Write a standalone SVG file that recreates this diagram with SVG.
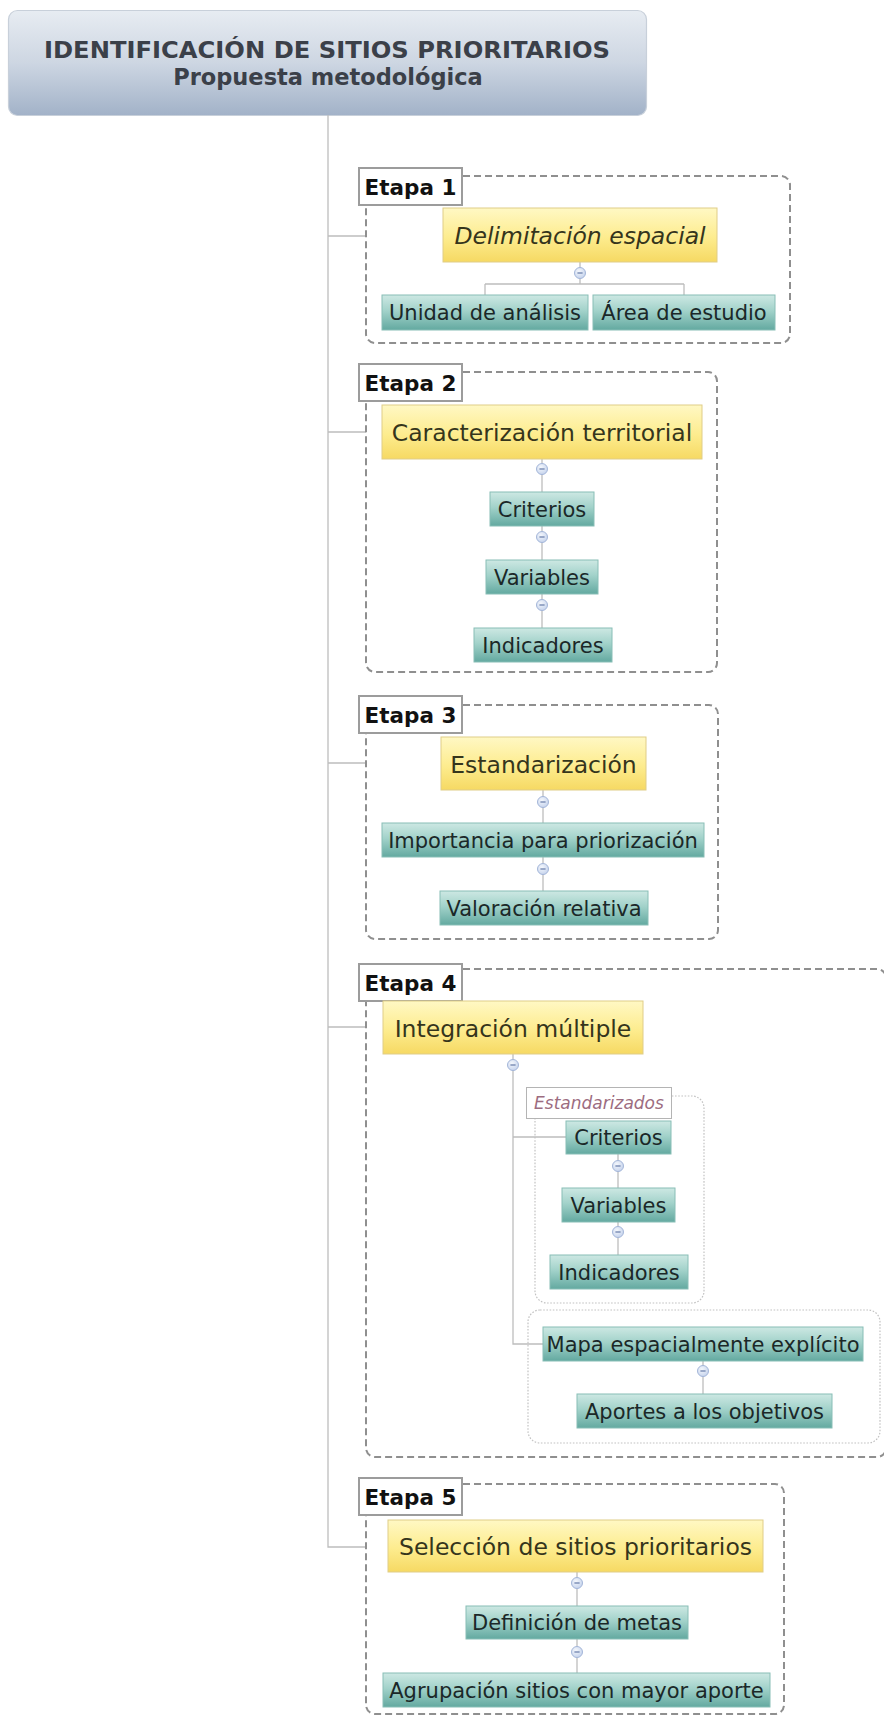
<svg xmlns="http://www.w3.org/2000/svg" width="884" height="1718" viewBox="0 0 884 1718">
  <defs>
    <linearGradient id="gTitle" x1="0" y1="0" x2="0" y2="1">
      <stop offset="0" stop-color="#e7ecf2"/>
      <stop offset="0.5" stop-color="#cdd6e2"/>
      <stop offset="1" stop-color="#a2b2c8"/>
    </linearGradient>
    <linearGradient id="gYellow" x1="0" y1="0" x2="0" y2="1">
      <stop offset="0" stop-color="#fff8c4"/>
      <stop offset="0.55" stop-color="#fdec8e"/>
      <stop offset="1" stop-color="#f6d963"/>
    </linearGradient>
    <linearGradient id="gTeal" x1="0" y1="0" x2="0" y2="1">
      <stop offset="0" stop-color="#cde8e3"/>
      <stop offset="0.45" stop-color="#a2d2ca"/>
      <stop offset="1" stop-color="#63a9a0"/>
    </linearGradient>
    <radialGradient id="gKnob" cx="0.4" cy="0.35" r="0.7">
      <stop offset="0" stop-color="#f4f7fc"/>
      <stop offset="1" stop-color="#c4d2ec"/>
    </radialGradient>
    <symbol id="knob" viewBox="-7 -7 14 14" width="14" height="14" overflow="visible">
      <circle r="5.5" fill="url(#gKnob)" stroke="#a4b6d9" stroke-width="1"/>
      <line x1="-2.6" y1="0" x2="2.6" y2="0" stroke="#6f83ad" stroke-width="1.3"/>
    </symbol>
  </defs>
  <style>
    .stage{fill:none;stroke:#8f8f8f;stroke-width:2;stroke-dasharray:7 4}
    .tag{fill:#ffffff;stroke:#9c9c9c;stroke-width:2}
    .tagtxt{font-family:"DejaVu Sans",Verdana,sans-serif;font-weight:bold;font-size:21.5px;fill:#111111;text-anchor:middle}
    .main{fill:url(#gYellow);stroke:#e0cd88;stroke-width:1}
    .maintxt{font-family:"DejaVu Sans",Verdana,sans-serif;font-size:23.5px;fill:#35351c;text-anchor:middle}
    .sub{fill:url(#gTeal);stroke:#88beb6;stroke-width:1}
    .subtxt{font-family:"DejaVu Sans",Verdana,sans-serif;font-size:21px;fill:#1b2828;text-anchor:middle}
    .link{fill:none;stroke:#bdbdbd;stroke-width:1.3}
    .group{fill:none;stroke:#c2c2c2;stroke-width:1.2;stroke-dasharray:1.6 1.6}
    .note{fill:#ffffff;stroke:#b4b4b4;stroke-width:1}
    .notetxt{font-family:"DejaVu Sans",Verdana,sans-serif;font-style:italic;font-size:17px;fill:#9c6c80;text-anchor:middle}
  </style>

  <rect width="884" height="1718" fill="#ffffff"/>

  <!-- root topic -->
  <g id="root">
    <rect x="8.5" y="10.5" width="638" height="105" rx="9" fill="url(#gTitle)" stroke="#c8d0da" stroke-width="1.2"/>
    <text x="327" y="58" textLength="566" lengthAdjust="spacingAndGlyphs" style="font-family:'DejaVu Sans',Verdana,sans-serif;font-weight:bold;font-size:22.5px;fill:#3b4049;text-anchor:middle">IDENTIFICACIÓN DE SITIOS PRIORITARIOS</text>
    <text x="328" y="85" style="font-family:'DejaVu Sans',Verdana,sans-serif;font-weight:bold;font-size:22.5px;fill:#3b4049;text-anchor:middle">Propuesta metodológica</text>
  </g>

  <!-- connectors -->
  <g id="connectors" class="link">
    <path d="M328 115 V1547 H366"/>
    <path d="M328 236 H366 M328 432 H366 M328 763 H366 M328 1027 H366"/>
    <!-- stage 1 fork -->
    <path d="M580 262 V284 M485 284 H684 M485 284 V295 M684 284 V295"/>
    <!-- stage 2 chain -->
    <path d="M542 459 V492 M542 526 V560 M542 594 V628"/>
    <!-- stage 3 chain -->
    <path d="M543 790 V823 M543 857 V891"/>
    <!-- stage 4 tree -->
    <path d="M513 1054 V1344 H543 M513 1137 H566"/>
    <path d="M618 1154 V1188 M618 1222 V1255 M703 1361 V1394"/>
    <!-- stage 5 chain -->
    <path d="M577 1572 V1606 M577 1639 V1673"/>
  </g>

  <!-- Etapa 1 -->
  <g id="etapa1">
    <rect class="stage" x="366" y="176" width="424" height="167" rx="9"/>
    <rect class="tag" x="359" y="168" width="103" height="37"/>
    <text class="tagtxt" x="410.5" y="194.5">Etapa 1</text>
  </g>
  <g id="delimitacion">
    <rect class="main" x="443" y="208" width="274" height="54"/>
    <text class="maintxt" x="580" y="244" font-style="italic">Delimitación espacial</text>
  </g>
  <g id="unidad">
    <rect class="sub" x="382" y="295" width="206" height="35"/>
    <text class="subtxt" x="485" y="320">Unidad de análisis</text>
  </g>
  <g id="area">
    <rect class="sub" x="593" y="295" width="182" height="35"/>
    <text class="subtxt" x="684" y="320">Área de estudio</text>
  </g>

  <!-- Etapa 2 -->
  <g id="etapa2">
    <rect class="stage" x="366" y="372" width="351" height="300" rx="9"/>
    <rect class="tag" x="359" y="364" width="103" height="37"/>
    <text class="tagtxt" x="410.5" y="390.5">Etapa 2</text>
  </g>
  <g id="caracterizacion">
    <rect class="main" x="382" y="405" width="320" height="54"/>
    <text class="maintxt" x="542" y="441">Caracterización territorial</text>
  </g>
  <g id="criterios2">
    <rect class="sub" x="490" y="492" width="104" height="34"/>
    <text class="subtxt" x="542" y="516.5">Criterios</text>
  </g>
  <g id="variables2">
    <rect class="sub" x="486" y="560" width="112" height="34"/>
    <text class="subtxt" x="542" y="584.5">Variables</text>
  </g>
  <g id="indicadores2">
    <rect class="sub" x="474" y="628" width="138" height="34"/>
    <text class="subtxt" x="543" y="652.5">Indicadores</text>
  </g>

  <!-- Etapa 3 -->
  <g id="etapa3">
    <rect class="stage" x="366" y="705" width="352" height="234" rx="9"/>
    <rect class="tag" x="359" y="696" width="103" height="37"/>
    <text class="tagtxt" x="410.5" y="722.5">Etapa 3</text>
  </g>
  <g id="estandarizacion">
    <rect class="main" x="441" y="737" width="205" height="53"/>
    <text class="maintxt" x="543.5" y="772.5">Estandarización</text>
  </g>
  <g id="importancia">
    <rect class="sub" x="382" y="823" width="322" height="34"/>
    <text class="subtxt" x="543" y="847.5">Importancia para priorización</text>
  </g>
  <g id="valoracion">
    <rect class="sub" x="440" y="891" width="208" height="34"/>
    <text class="subtxt" x="544" y="915.5">Valoración relativa</text>
  </g>

  <!-- Etapa 4 -->
  <g id="etapa4">
    <rect class="stage" x="366" y="969" width="520" height="488" rx="9"/>
    <rect class="tag" x="359" y="964" width="103" height="37"/>
    <text class="tagtxt" x="410.5" y="990.5">Etapa 4</text>
  </g>
  <g id="integracion">
    <rect class="main" x="383" y="1001" width="260" height="53"/>
    <text class="maintxt" x="513" y="1036.5">Integración múltiple</text>
  </g>
  <g id="estandarizados">
    <rect class="group" x="535" y="1096" width="169" height="207" rx="12"/>
    <rect class="note" x="526.5" y="1087.5" width="145" height="31"/>
    <text class="notetxt" x="599" y="1109">Estandarizados</text>
  </g>
  <g id="criterios4">
    <rect class="sub" x="566" y="1121" width="105" height="33"/>
    <text class="subtxt" x="618.5" y="1145">Criterios</text>
  </g>
  <g id="variables4">
    <rect class="sub" x="562" y="1188" width="113" height="34"/>
    <text class="subtxt" x="618.5" y="1212.5">Variables</text>
  </g>
  <g id="indicadores4">
    <rect class="sub" x="550" y="1255" width="138" height="34"/>
    <text class="subtxt" x="619" y="1279.5">Indicadores</text>
  </g>
  <g id="mapa-grupo">
    <rect class="group" x="528" y="1310" width="352" height="133" rx="12"/>
  </g>
  <g id="mapa">
    <rect class="sub" x="543" y="1327" width="320" height="34"/>
    <text class="subtxt" x="703" y="1351.5">Mapa espacialmente explícito</text>
  </g>
  <g id="aportes">
    <rect class="sub" x="577" y="1394" width="255" height="34"/>
    <text class="subtxt" x="704.5" y="1418.5">Aportes a los objetivos</text>
  </g>

  <!-- Etapa 5 -->
  <g id="etapa5">
    <rect class="stage" x="366" y="1484" width="418" height="230" rx="9"/>
    <rect class="tag" x="359" y="1478" width="103" height="37"/>
    <text class="tagtxt" x="410.5" y="1504.5">Etapa 5</text>
  </g>
  <g id="seleccion">
    <rect class="main" x="388" y="1520" width="375" height="52"/>
    <text class="maintxt" x="575.5" y="1555">Selección de sitios prioritarios</text>
  </g>
  <g id="metas">
    <rect class="sub" x="466" y="1606" width="222" height="33"/>
    <text class="subtxt" x="577" y="1630">Definición de metas</text>
  </g>
  <g id="agrupacion">
    <rect class="sub" x="383" y="1673" width="387" height="34"/>
    <text class="subtxt" x="576.5" y="1697.5">Agrupación sitios con mayor aporte</text>
  </g>

  <!-- collapse knobs -->
  <g id="knobs">
    <use href="#knob" x="573" y="266"/>
    <use href="#knob" x="535" y="462"/>
    <use href="#knob" x="535" y="530"/>
    <use href="#knob" x="535" y="598"/>
    <use href="#knob" x="536" y="795"/>
    <use href="#knob" x="536" y="862"/>
    <use href="#knob" x="506" y="1058"/>
    <use href="#knob" x="611" y="1159"/>
    <use href="#knob" x="611" y="1225"/>
    <use href="#knob" x="696" y="1364"/>
    <use href="#knob" x="570" y="1576"/>
    <use href="#knob" x="570" y="1645"/>
  </g>
</svg>
